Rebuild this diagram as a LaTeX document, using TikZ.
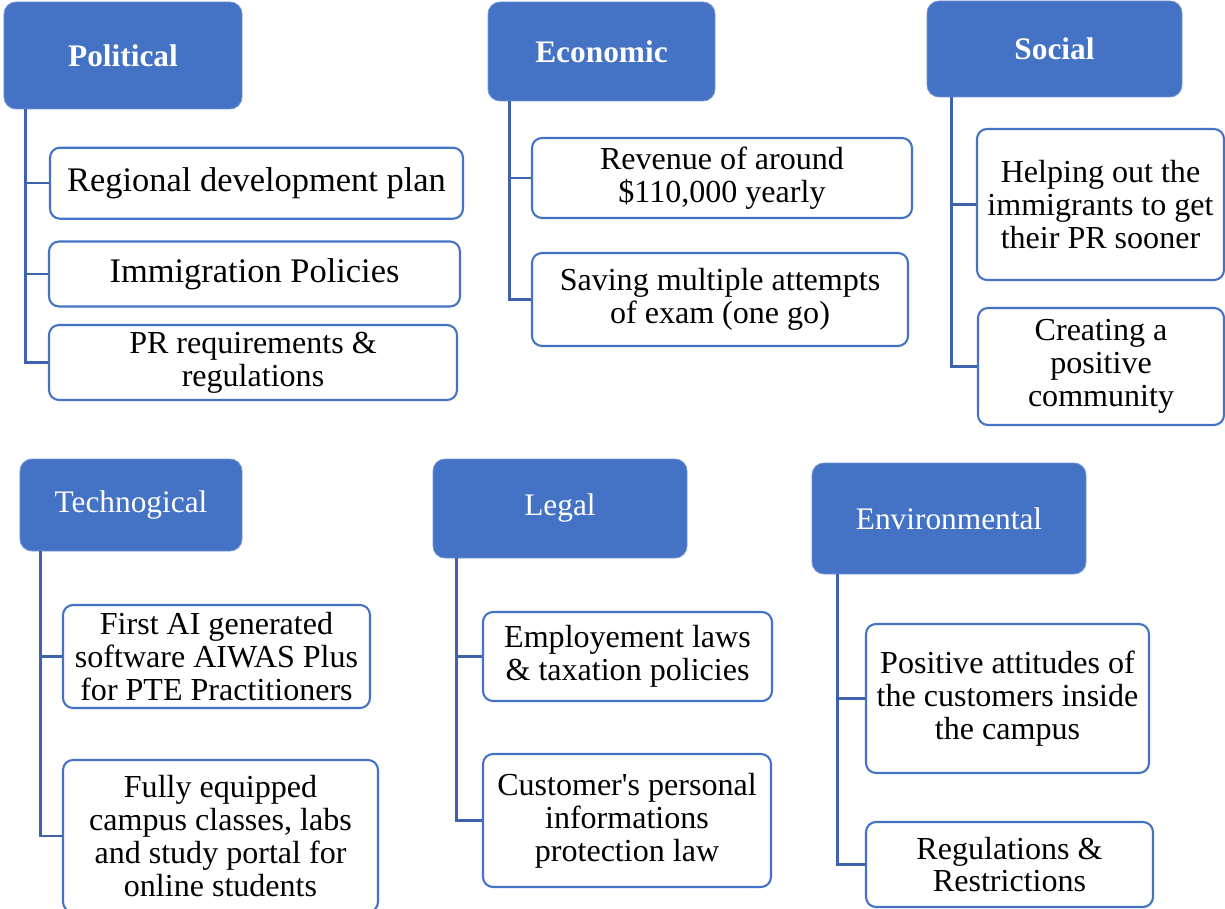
\documentclass[tikz,border=0pt]{standalone}
\usepackage{fontspec}
\setmainfont{Liberation Serif}
\definecolor{hdrblue}{HTML}{4472C4}
\definecolor{linkblue}{HTML}{3E62AC}
\tikzset{
  header/.style={fill=hdrblue, draw=hdrblue!75!white, line width=0.6pt, rounded corners=0.3cm,
    text=white, inner sep=0pt, font=\fontsize{22.3}{24}\selectfont},
  boldheader/.style={header, font=\fontsize{22.3}{24}\selectfont\bfseries},
  item/.style={draw=hdrblue, line width=1.5pt, fill=white, rounded corners=0.25cm,
    align=center, inner sep=0pt, font=\fontsize{22.8}{23.4}\selectfont},
  bigitem/.style={item, font=\fontsize{24.5}{26}\selectfont},
  link/.style={draw=linkblue, line width=1.7pt},
}
\begin{document}
\begin{tikzpicture}
  \useasboundingbox (0,0) rectangle (30.625,-22.725);

  % top row
  \node[boldheader, minimum width=5.95cm, minimum height=2.675cm] (pol) at (3.075,-1.3875) {Political};
  \node[bigitem, minimum width=10.325cm, minimum height=1.775cm] (pol1) at (6.4125,-4.58) {Regional development plan};
  \node[bigitem, minimum width=10.275cm, minimum height=1.625cm] (pol2) at (6.3625,-6.85) {Immigration Policies};
  \node[item, minimum width=10.2cm, minimum height=1.875cm] (pol3) at (6.325,-9.0625) {PR requirements \&\\regulations};

  \node[boldheader, minimum width=5.675cm, minimum height=2.475cm] (eco) at (15.0375,-1.2875) {Economic};
  \node[item, minimum width=9.5cm, minimum height=2cm] (eco1) at (18.05,-4.45) {Revenue of around\\\$110,000 yearly};
  \node[item, minimum width=9.4cm, minimum height=2.325cm] (eco2) at (18.0,-7.4875) {Saving multiple attempts\\of exam (one go)};

  \node[boldheader, minimum width=6.375cm, minimum height=2.4cm] (soc) at (26.3625,-1.225) {Social};
  \node[item, minimum width=6.175cm, minimum height=3.775cm] (soc1) at (27.5125,-5.1125) {Helping out the\\immigrants to get\\their PR sooner};
  \node[item, minimum width=6.15cm, minimum height=2.925cm] (soc2) at (27.525,-9.1625) {Creating a\\positive\\community};

  % bottom row
  \node[header, minimum width=5.55cm, minimum height=2.3cm] (tec) at (3.275,-12.625) {Technogical};
  \node[item, minimum width=7.675cm, minimum height=2.575cm] (tec1) at (5.4125,-16.4125) {First AI generated\\software AIWAS Plus\\for PTE Practitioners};
  \node[item, minimum width=7.875cm, minimum height=3.8cm] (tec2) at (5.5125,-20.9) {Fully equipped\\campus classes, labs\\and study portal for\\online students};

  \node[header, minimum width=6.35cm, minimum height=2.475cm] (leg) at (14.0,-12.7125) {Legal};
  \node[item, minimum width=7.225cm, minimum height=2.225cm] (leg1) at (15.6875,-16.4125) {Employement laws\\\& taxation policies};
  \node[item, minimum width=7.2cm, minimum height=3.325cm] (leg2) at (15.675,-20.5125) {Customer\textquotesingle s personal\\informations\\protection law};

  \node[header, minimum width=6.85cm, minimum height=2.775cm] (env) at (23.725,-12.9625) {Environmental};
  \node[item, minimum width=7.075cm, minimum height=3.725cm] (env1) at (25.1875,-17.4625) {Positive attitudes of\\the customers inside\\the campus};
  \node[item, minimum width=7.175cm, minimum height=2.125cm] (env2) at (25.2375,-21.6125) {Regulations \&\\Restrictions};

  % connectors
  \foreach \c in {pol1,pol2,pol3} \draw[link] ([xshift=.55cm]pol.south west) |- (\c.west);
  \foreach \c in {eco1,eco2} \draw[link] ([xshift=.55cm]eco.south west) |- (\c.west);
  \foreach \c in {soc1,soc2} \draw[link] ([xshift=.625cm]soc.south west) |- (\c.west);
  \foreach \c in {tec1,tec2} \draw[link] ([xshift=.525cm]tec.south west) |- (\c.west);
  \foreach \c in {leg1,leg2} \draw[link] ([xshift=.6cm]leg.south west) |- (\c.west);
  \foreach \c in {env1,env2} \draw[link] ([xshift=.65cm]env.south west) |- (\c.west);
\end{tikzpicture}
\end{document}
